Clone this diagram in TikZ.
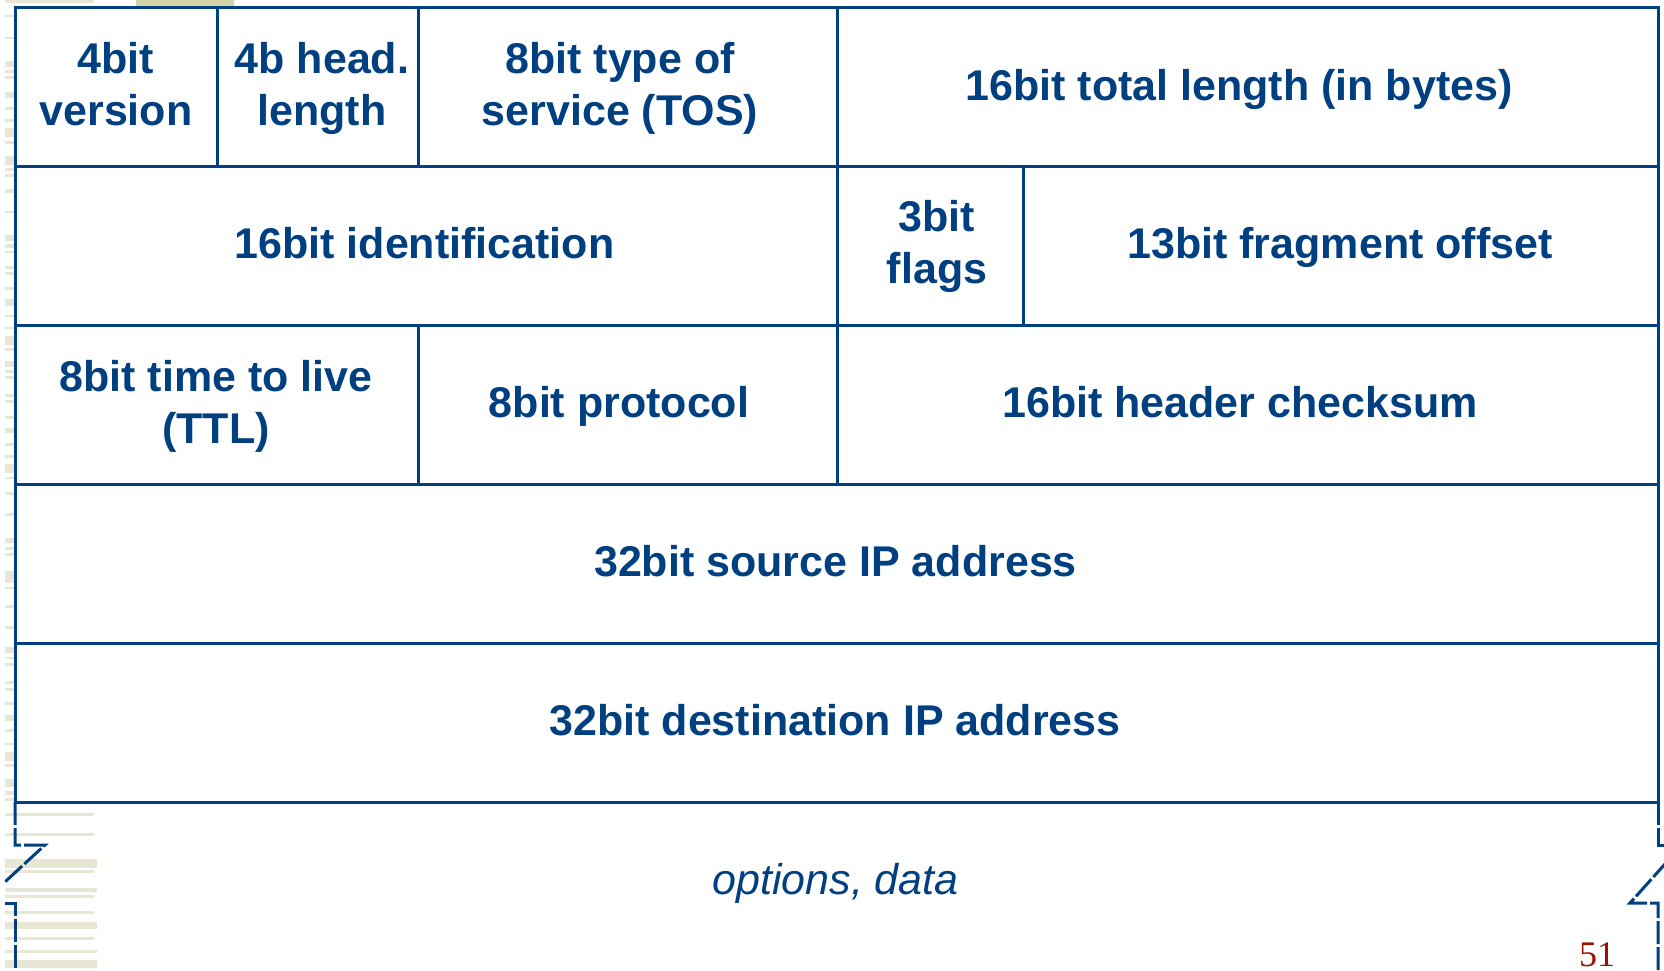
\documentclass[tikz,border=0pt]{standalone}
\usepackage{fontspec}
\setmainfont{Liberation Sans}
\newfontfamily\pagenumfont{Liberation Serif}
\definecolor{hdrblue}{RGB}{0,64,128}
\definecolor{stripelight}{RGB}{232,230,212}
\definecolor{stripedark}{RGB}{214,211,168}
\definecolor{pagered}{RGB}{153,17,0}
\tikzset{
  cellbox/.style={draw=hdrblue, fill=white, line width=3pt, anchor=north west, inner sep=0pt, outer sep=0pt, line join=miter},
  celltext/.style={text=hdrblue, font=\fontsize{43}{52}\selectfont\bfseries, anchor=base, inner sep=0pt},
  optext/.style={text=hdrblue, font=\fontsize{43}{52}\selectfont\itshape, anchor=base, inner sep=0pt},
  pagenum/.style={text=pagered, font=\pagenumfont\fontsize{36}{40}\selectfont, anchor=base, inner sep=0pt},
  tear/.style={draw=hdrblue, line width=3pt, dash pattern=on 23pt off 3pt},
}
\begin{document}
\begin{tikzpicture}[x=1pt,y=-1pt]
\useasboundingbox (0,0) rectangle (1664,970);
\fill[white] (0,0) rectangle (1664,970);
% background stripes of the slide
\fill[stripelight] (5,0) rectangle (94,2.7);
\fill[stripedark] (136,0) rectangle (234,5.7);
\foreach \a/\b/\e in {15/17/94,37/39/94,61/67/94,70/73/94,76/79/94,92/98/94,107/110/94,119/122/94,
  128/137/94,141/144/94,156/165/94,168/171/94,174/177/94,189/193/94,211/213/94,235/241/94,244/248/94,
  251/253/94,266/269/94,272/275/94,287/290/94,299/306/94,315/317/94,327/329/94,336/345/94,348/351/94,
  361/367/94,370/373/94,376/379/94,394/397/94,400/403/94,416/419/94,428/433/94,443/446/94,455/458/94,
  464/473/94,477/479/94,492/495/94,513/516/94,538/543/94,547/550/94,553/556/94,571/583/94,587/589/94,
  605/608/94,626/629/94,647/653/94,657/659/94,663/666/94,681/684/94,688/691/94,702/705/94,715/721/94,
  729/732/94,743/745/94,752/761/94,764/767/94,779/787/94,791/795/94,798/801/94,813/816/94,833/836/94,
  859/868/97,870/873/94,888/892/97,895/898/94,911/914/94,922/929/97,937/940/94,950/953/97,960/968/97}
  {\fill[stripelight] (5,\a) rectangle (\e,\b);}
% header cells
\node[cellbox, minimum width=202pt, minimum height=158.9pt] (version) at (15,7.5) {};
\node[cellbox, minimum width=201pt, minimum height=158.9pt] (hlen) at (217,7.5) {};
\node[cellbox, minimum width=419pt, minimum height=158.9pt] (tos) at (418,7.5) {};
\node[cellbox, minimum width=821pt, minimum height=158.9pt] (totlen) at (837,7.5) {};
\node[cellbox, minimum width=822pt, minimum height=158.9pt] (ident) at (15,166.4) {};
\node[cellbox, minimum width=186pt, minimum height=158.9pt] (flags) at (837,166.4) {};
\node[cellbox, minimum width=635pt, minimum height=158.9pt] (frag) at (1023,166.4) {};
\node[cellbox, minimum width=403pt, minimum height=158.9pt] (ttl) at (15,325.3) {};
\node[cellbox, minimum width=419pt, minimum height=158.9pt] (proto) at (418,325.3) {};
\node[cellbox, minimum width=821pt, minimum height=158.9pt] (csum) at (837,325.3) {};
\node[cellbox, minimum width=1643pt, minimum height=158.9pt] (src) at (15,484.2) {};
\node[cellbox, minimum width=1643pt, minimum height=158.9pt] (dst) at (15,643.1) {};
% texts
\node[celltext] (tversionA) at (116,73) {4bit};
\node[celltext] (tversionB) at (116,125) {version};
\node[celltext] (thlenA) at (322,73) {4b head.};
\node[celltext] (thlenB) at (322,125) {length};
\node[celltext] (ttosA) at (620,73) {8bit type of};
\node[celltext] (ttosB) at (620,125) {service (TOS)};
\node[celltext] (ttotlen) at (1239,100) {16bit total length (in bytes)};
\node[celltext] (tident) at (424.5,258.5) {16bit identification};
\node[celltext] (tflagsA) at (937,231) {3bit};
\node[celltext] (tflagsB) at (937,283) {flags};
\node[celltext] (tfrag) at (1340,258.5) {13bit fragment offset};
\node[celltext] (tttlA) at (216,391) {8bit time to live};
\node[celltext] (tttlB) at (216,443) {(TTL)};
\node[celltext] (tproto) at (619,417.5) {8bit protocol};
\node[celltext] (tcsum) at (1240,417.5) {16bit header checksum};
\node[celltext] (tsrc) at (835.5,576.5) {32bit source IP address};
\node[celltext] (tdst) at (835,735.5) {32bit destination IP address};
\node[optext] (topts) at (835.5,894) {options, data};
\node[pagenum] (pnum) at (1597,966.5) {51};
% torn edges of the options area
\begin{scope}
\clip (4.5,790) rectangle (1664,975);
\draw[tear] (15,802) -- (15,845) -- (45,845) -- (-18,903);
\draw[tear] (5,903) -- (15,903) -- (15,972);
\draw[tear] (1658,802) -- (1658,845) -- (1682,845);
\draw[tear] (1658,970) -- (1658,903) -- (1630,903) -- (1682,845);
\end{scope}
\end{tikzpicture}
\end{document}
